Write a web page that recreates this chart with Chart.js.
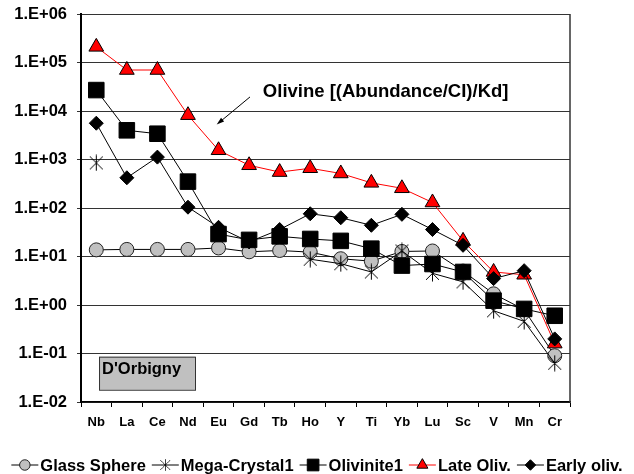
<!DOCTYPE html>
<html>
<head>
<meta charset="utf-8">
<script src="https://cdn.jsdelivr.net/npm/chart.js@4.4.1/dist/chart.umd.min.js"></script>
<style>
  body { margin: 0; background: #fff; }
  canvas { display: block; }
</style>
</head>
<body>
<canvas id="chart" width="634" height="474"></canvas>
<script>
const elements = ['Nb', 'La', 'Ce', 'Nd', 'Eu', 'Gd', 'Tb', 'Ho', 'Y', 'Ti', 'Yb', 'Lu', 'Sc', 'V', 'Mn', 'Cr'];
const yTicks = [0.01, 0.1, 1, 10, 100, 1000, 10000, 100000, 1000000];

const glassSphere = [13.7, 14, 14, 14, 15, 12.5, 13.3, 12.3, 9, 8, 12.7, 13, 5, 1.7, 0.8, 0.09];
const megaCrystal1 = [850, null, null, null, null, null, null, 8.8, 7.1, 4.8, 13, 4.5, 3.0, 0.76, 0.46, 0.063];
const olivinite1 = [27000, 4000, 3400, 350, 29, 22, 26, 23, 21, 14.5, 6.5, 7, 4.8, 1.23, 0.83, 0.6];
const lateOliv = [210000, 70000, 70000, 8200, 1550, 760, 550, 660, 515, 330, 255, 130, 21, 4.8, 4.2, 0.16];
const earlyOliv = [5600, 420, 1120, 104, 40, 20, 36, 76, 63, 44, 74, 36, 17, 3.5, 5.1, 0.2];

const noteText = 'Olivine [(Abundance/CI)/Kd]';
const boxText = "D'Orbigny";

const FONT = '"Liberation Sans", Arial, sans-serif';

// asterisk marker like the spreadsheet "star"
const starMark = document.createElement('canvas');
starMark.width = 17;
starMark.height = 17;
(function () {
  const c = starMark.getContext('2d');
  c.strokeStyle = '#000';
  c.lineWidth = 1;
  c.beginPath();
  c.moveTo(8.5, 0.5); c.lineTo(8.5, 16.5);
  c.moveTo(2, 2); c.lineTo(15, 15);
  c.moveTo(15, 2); c.lineTo(2, 15);
  c.stroke();
})();

function sci(v) {
  const e = Math.round(Math.log10(v));
  return '1.E' + (e < 0 ? '-' : '+') + String(Math.abs(e)).padStart(2, '0');
}

function drawMarker(ctx, d, x, y, k) {
  if (d.pointStyle instanceof HTMLCanvasElement) {
    const s = d.pointStyle.width * k;
    ctx.drawImage(d.pointStyle, x - s / 2, y - s / 2, s, s);
    return;
  }
  ctx.fillStyle = d.pointBackgroundColor;
  ctx.strokeStyle = d.pointBorderColor;
  ctx.lineWidth = d.pointBorderWidth;
  Chart.helpers.drawPoint(ctx, {
    pointStyle: d.pointStyle,
    radius: d.pointRadius * k,
    rotation: 0,
    borderWidth: d.pointBorderWidth
  }, x, y);
}

const overlay = {
  id: 'overlay',
  afterDraw(chart) {
    const { ctx, chartArea: a, scales: { x, y } } = chart;
    ctx.save();

    // right edge of plot area
    ctx.strokeStyle = '#333';
    ctx.lineWidth = 1.5;
    ctx.beginPath();
    ctx.moveTo(a.right, a.top);
    ctx.lineTo(a.right, a.bottom);
    ctx.stroke();

    // label + arrow
    ctx.fillStyle = '#000';
    ctx.font = 'bold 18.5px ' + FONT;
    ctx.textBaseline = 'alphabetic';
    ctx.fillText(noteText, x.getPixelForValue(5.45), y.getPixelForValue(1.93e4));

    const x0 = x.getPixelForValue(5.03), y0 = y.getPixelForValue(1.95e4);
    const x1 = x.getPixelForValue(3.94), y1 = y.getPixelForValue(5.25e3);
    const ang = Math.atan2(y1 - y0, x1 - x0);
    ctx.strokeStyle = '#000';
    ctx.lineWidth = 1;
    ctx.beginPath();
    ctx.moveTo(x0, y0);
    ctx.lineTo(x1 - 5 * Math.cos(ang), y1 - 5 * Math.sin(ang));
    ctx.stroke();
    ctx.beginPath();
    ctx.moveTo(x1, y1);
    ctx.lineTo(x1 - 8 * Math.cos(ang - 0.3), y1 - 8 * Math.sin(ang - 0.3));
    ctx.lineTo(x1 - 8 * Math.cos(ang + 0.3), y1 - 8 * Math.sin(ang + 0.3));
    ctx.closePath();
    ctx.fill();

    // grey name box
    const bx0 = x.getPixelForValue(0.09), bx1 = x.getPixelForValue(3.23);
    const by0 = y.getPixelForValue(0.086), by1 = y.getPixelForValue(0.0179);
    ctx.fillStyle = '#c0c0c0';
    ctx.fillRect(bx0, by0, bx1 - bx0, by1 - by0);
    ctx.strokeStyle = '#333';
    ctx.lineWidth = 1;
    ctx.strokeRect(bx0 + 0.5, by0 + 0.5, bx1 - bx0, by1 - by0);
    ctx.fillStyle = '#000';
    ctx.font = 'bold 16.5px ' + FONT;
    ctx.fillText(boxText, bx0 + 3, y.getPixelForValue(0.0377));

    ctx.restore();
  }
};

const bottomLegend = {
  id: 'bottomLegend',
  afterDraw(chart) {
    const ctx = chart.ctx;
    const sets = chart.data.datasets;
    ctx.save();
    ctx.font = 'bold 16.5px ' + FONT;
    const sym = 27, gapIn = 2, gapOut = 6;
    const widths = sets.map(d => ctx.measureText(d.label).width);
    const total = widths.reduce((s, w) => s + w, 0) + sets.length * (sym + gapIn) + (sets.length - 1) * gapOut;
    let x = (chart.width - total) / 2;
    const yc = 465;
    sets.forEach((d, i) => {
      ctx.strokeStyle = d.borderColor;
      ctx.lineWidth = d.borderWidth;
      ctx.beginPath();
      ctx.moveTo(x, yc);
      ctx.lineTo(x + sym, yc);
      ctx.stroke();
      drawMarker(ctx, d, x + sym / 2, yc, 0.75);
      x += sym + gapIn;
      ctx.fillStyle = '#000';
      ctx.textBaseline = 'middle';
      ctx.fillText(d.label, x, yc + 1);
      x += widths[i] + gapOut;
    });
    ctx.restore();
  }
};

const lineBase = { borderWidth: 1, tension: 0, spanGaps: false, fill: false };

new Chart(document.getElementById('chart'), {
  type: 'line',
  data: {
    labels: elements,
    datasets: [
      {
        ...lineBase, label: 'Glass Sphere', data: glassSphere, order: 4,
        borderColor: '#000', pointStyle: 'circle', pointRadius: 7,
        pointBackgroundColor: '#c0c0c0', pointBorderColor: '#222', pointBorderWidth: 1
      },
      {
        ...lineBase, label: 'Mega-Crystal1', data: megaCrystal1, order: 3,
        borderColor: '#000', pointStyle: starMark, pointRadius: 8,
        pointBackgroundColor: '#000', pointBorderColor: '#000', pointBorderWidth: 1
      },
      {
        ...lineBase, label: 'Olivinite1', data: olivinite1, order: 2,
        borderColor: '#000', pointStyle: 'rect', pointRadius: 11,
        pointBackgroundColor: '#000', pointBorderColor: '#000', pointBorderWidth: 1
      },
      {
        ...lineBase, label: 'Late Oliv.', data: lateOliv, order: 1,
        borderColor: '#ff0000', pointStyle: 'triangle', pointRadius: 8.5,
        pointBackgroundColor: '#ff0000', pointBorderColor: '#000', pointBorderWidth: 1
      },
      {
        ...lineBase, label: 'Early oliv.', data: earlyOliv, order: 0,
        borderColor: '#000', pointStyle: 'rectRot', pointRadius: 7,
        pointBackgroundColor: '#000', pointBorderColor: '#000', pointBorderWidth: 1
      }
    ]
  },
  options: {
    responsive: false,
    animation: false,
    devicePixelRatio: 1,
    layout: { padding: { left: 0, right: 64, top: 14, bottom: 0 } },
    plugins: {
      legend: { display: false },
      tooltip: { enabled: false }
    },
    scales: {
      x: {
        type: 'category',
        offset: true,
        grid: { offset: true, drawOnChartArea: false, drawTicks: true, tickLength: 5, color: '#000', lineWidth: 1 },
        border: { display: true, color: '#000', width: 1.5 },
        ticks: {
          color: '#000', padding: 8, maxRotation: 0, autoSkip: false,
          font: { family: FONT, size: 13, weight: 'bold' }
        },
        afterFit: s => { s.height = 72; s.paddingLeft = 0; s.paddingRight = 0; }
      },
      y: {
        type: 'logarithmic',
        min: 0.01,
        max: 1000000,
        afterBuildTicks: s => { s.ticks = yTicks.map(v => ({ value: v })); },
        grid: { color: '#333', lineWidth: 1, tickLength: 4 },
        border: { display: true, color: '#000', width: 2 },
        ticks: {
          callback: v => sci(v),
          color: '#000', padding: 10,
          font: { family: FONT, size: 16.5, weight: 'bold' }
        },
        afterFit: s => { s.width = 81; s.paddingTop = 0; s.paddingBottom = 0; }
      }
    }
  },
  plugins: [overlay, bottomLegend]
});
</script>
</body>
</html>
